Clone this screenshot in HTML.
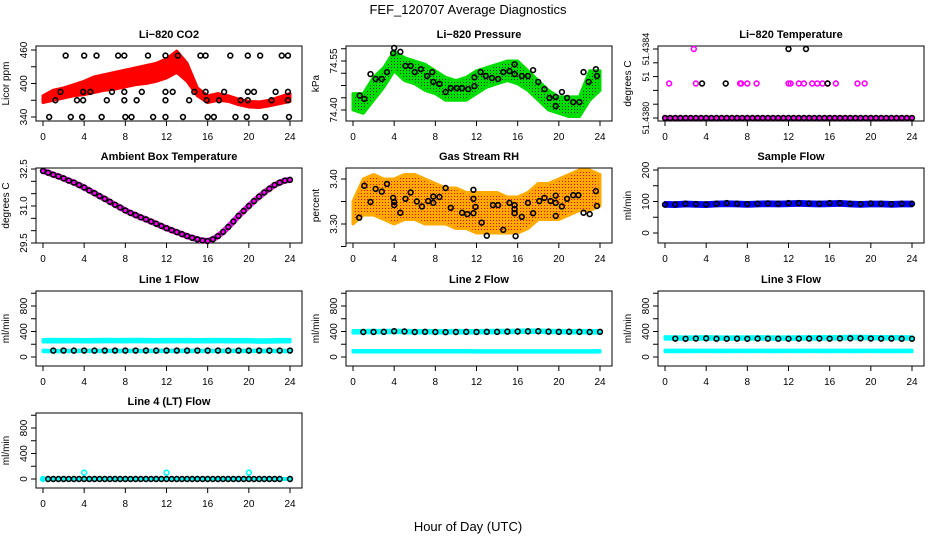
<!DOCTYPE html>
<html><head><meta charset="utf-8"><style>
html,body{margin:0;padding:0;background:#fff;}
svg{display:block;font-family:"Liberation Sans",sans-serif;}
</style></head><body>
<svg id="c" width="936" height="540" viewBox="0 0 936 540" xmlns="http://www.w3.org/2000/svg">
<defs>
<pattern id="pg" width="3" height="3" patternUnits="userSpaceOnUse"><rect width="3" height="3" fill="#00dd00"/><rect x="1" y="1" width="1" height="1" fill="#003300"/></pattern>
<pattern id="po" width="3" height="3" patternUnits="userSpaceOnUse"><rect width="3" height="3" fill="#ffaa00"/><rect x="1" y="1" width="1" height="1" fill="#ff0000"/></pattern>
</defs>
<text x="468" y="14" text-anchor="middle" font-size="13">FEF_120707  Average Diagnostics</text>
<text x="468" y="531" text-anchor="middle" font-size="13">Hour of Day (UTC)</text>
</svg>
<script>
// ---- data ----
const hours = [0,1,2,3,4,5,6,7,8,9,10,11,12,13,14,15,16,17,18,19,20,21,22,23,24];
const xTicks = [0,4,8,12,16,20,24];
// CO2
const co2Lo = [366,370,374,378,380,384,388,390,394,398,400,404,410,420,404,378,366,370,368,362,358,357,360,364,368];
const co2Hi = [378,388,392,398,404,412,416,420,424,428,432,436,444,458,436,392,378,382,378,372,368,367,370,376,382];
const co2BlkT = [2.2,4.0,5.2,7.3,7.9,10.2,11.9,13.1,15.3,15.8,18.2,19.9,21.1,23.2,23.8, 1.7,3.9,4.6,6.7,7.9,9.6,11.9,12.6,14.7,15.8,17.6,19.9,20.5,22.6,23.8, 1.2,3.3,3.9,6.2,7.9,9.1,11.9,14.2,15.9,17.1,19.2,19.9,22.2,23.8, 0.6,2.7,3.8,5.7,8.0,8.6,10.7,11.9,13.6,16.0,16.6,18.7,19.8,21.6,23.9];
const co2BlkV = [450,450,450,450,450,450,450,450,450,450,450,450,450,450,450, 385,385,385,385,385,385,385,385,385,385,385,385,385,385,385, 370,370,370,370,370,370,370,370,370,370,370,370,370,370, 340,340,340,340,340,340,340,340,340,340,340,340,340,340,340];
// Pressure
const prLo = [74.40,74.39,74.43,74.47,74.52,74.49,74.48,74.46,74.45,74.43,74.43,74.43,74.45,74.47,74.48,74.49,74.48,74.46,74.43,74.40,74.39,74.38,74.38,74.43,74.46];
const prHi = [74.45,74.45,74.50,74.53,74.58,74.56,74.55,74.54,74.52,74.50,74.49,74.50,74.52,74.53,74.54,74.55,74.55,74.52,74.49,74.46,74.44,74.44,74.44,74.52,74.52];
const prBlkT = [0.65,1.1,1.7,2.2,2.8,3.3,3.9,4.0,4.6,5.1,5.6,6.0,6.6,7.2,7.7,7.8,8.4,9.0,9.5,10.1,10.6,11.2,11.8,11.8,12.4,12.9,13.5,14.1,14.6,15.2,15.7,15.7,16.4,17.0,17.5,18.0,18.6,19.1,19.7,19.7,20.3,20.8,21.4,22.0,22.4,22.9,23.6,23.7];
const prBlkV = [74.444,74.434,74.51,74.495,74.495,74.516,74.574,74.59,74.578,74.535,74.535,74.516,74.525,74.504,74.516,74.486,74.48,74.455,74.467,74.467,74.467,74.464,74.50,74.473,74.516,74.504,74.498,74.495,74.516,74.519,74.54,74.51,74.504,74.504,74.522,74.486,74.464,74.437,74.412,74.44,74.455,74.437,74.424,74.424,74.516,74.486,74.525,74.504];
// Li-820 temperature
const tmpMidT = [0.4,3.0,7.3,7.4,8.0,8.9,12.0,12.2,13.0,13.5,14.3,14.8,15.3,15.8,16.6,18.7,19.4];
const tmpTopT = [2.8];
const tmpBlkMidT = [3.6,5.9,15.8];
const tmpBlkTopT = [12.0,13.7];
const tmpLow = 51.4380, tmpMid = 51.4382, tmpTop = 51.4384;
// Ambient box temperature (half-hourly)
const ambT = [0,0.5,1,1.5,2,2.5,3,3.5,4,4.5,5,5.5,6,6.5,7,7.5,8,8.5,9,9.5,10,10.5,11,11.5,12,12.5,13,13.5,14,14.5,15,15.5,16,16.5,17,17.5,18,18.5,19,19.5,20,20.5,21,21.5,22,22.5,23,23.5,24];
const ambV = [32.42,32.35,32.27,32.2,32.12,32.03,31.95,31.85,31.75,31.63,31.52,31.4,31.29,31.17,31.05,30.94,30.82,30.72,30.63,30.54,30.46,30.37,30.28,30.19,30.1,30.02,29.94,29.86,29.78,29.71,29.65,29.6,29.58,29.65,29.78,29.95,30.15,30.37,30.6,30.8,31.0,31.2,31.38,31.55,31.7,31.85,31.95,32.03,32.06];
// Gas stream RH
const rhLo = [3.30,3.32,3.32,3.31,3.30,3.31,3.31,3.30,3.30,3.30,3.29,3.29,3.28,3.28,3.28,3.28,3.28,3.29,3.31,3.31,3.31,3.32,3.33,3.33,3.34];
const rhHi = [3.35,3.40,3.41,3.40,3.40,3.41,3.41,3.40,3.39,3.38,3.38,3.37,3.37,3.37,3.37,3.36,3.36,3.37,3.39,3.39,3.40,3.41,3.42,3.42,3.41];
const rhBlkT = [0.6,1.1,1.7,2.2,2.8,3.3,3.9,4.0,4.0,4.6,5.1,5.6,6.2,6.7,7.3,7.8,7.8,8.4,9.0,9.5,10.6,11.1,11.7,11.7,11.7,11.9,12.5,13.0,13.6,14.1,14.6,15.2,15.7,15.7,15.7,15.8,16.4,17.0,17.5,18.1,18.6,19.2,19.7,19.7,19.7,20.3,20.8,21.4,21.9,22.4,23.0,23.6,23.7];
const rhBlkV = [3.314,3.385,3.349,3.378,3.372,3.389,3.358,3.349,3.342,3.325,3.356,3.37,3.35,3.339,3.351,3.361,3.347,3.36,3.38,3.336,3.325,3.322,3.376,3.356,3.324,3.338,3.303,3.274,3.342,3.342,3.287,3.347,3.342,3.333,3.324,3.273,3.316,3.347,3.324,3.351,3.358,3.351,3.363,3.347,3.318,3.339,3.356,3.364,3.364,3.325,3.322,3.373,3.340];
// Sample flow
const sfBlue = [91,90,92,91,90,92,93,92,91,92,93,92,93,94,93,92,93,94,92,91,92,92,91,92,92];
const sfBlk = [90,91,93,92,91,93,95,93,92,93,94,93,95,95,94,93,95,95,93,92,94,93,92,93,93];
// Flows
const l1CyanHi = [255,258,256,257,255,256,258,257,256,258,256,255,256,257,256,255,256,257,256,255,256,250,252,256,255];
const l1CyanLo = [95,92,94,95,96,95,94,95,96,95,96,95,96,95,96,95,96,95,96,95,96,95,96,94,95];
const l1Blk = [100,100,101,100,101,100,101,101,100,101,101,100,101,101,100,101,100,101,100,101,100,101,100,100,101];
const l2Cyan = [395,398,400,398,402,400,395,398,396,394,398,396,396,398,399,400,402,405,404,400,398,396,398,395,395];
const l2CyanLo = [90,90,90,90,90,90,90,90,90,90,90,90,88,88,88,88,88,88,88,88,88,88,88,88,90];
const l2Blk = [390,392,393,395,405,400,392,395,392,390,392,394,393,395,394,398,400,402,404,398,395,396,394,392,395];
const l3Cyan = [300,298,296,298,300,297,296,298,298,300,298,296,297,298,300,301,300,302,305,306,304,300,302,300,298];
const l3CyanLo = [95,95,95,96,96,95,95,96,95,96,95,95,96,95,96,95,95,96,95,95,96,95,95,95,95];
const l3Blk = [285,288,286,290,292,287,286,288,286,289,288,287,286,288,289,290,288,291,292,293,290,288,289,287,286];
const l4Cyan = [0,0,0,0,100,0,0,0,0,0,0,0,100,0,0,0,0,0,0,0,100,0,0,0,0];
const l4Blk = [0,0,0,0,0,0,0,0,0,0,0,0,0,0,0,0,0,0,0,0,0,0,0,0,0];

// ---- drawing ----
const svg = document.getElementById('c');
const NS = 'http://www.w3.org/2000/svg';
function mk(tag, attrs, parent) {
  const e = document.createElementNS(NS, tag);
  for (const k in attrs) e.setAttribute(k, attrs[k]);
  (parent || svg).appendChild(e);
  return e;
}
const colL = [36, 346, 658];
const rowT = [46, 168, 291, 413];
const PW = 266, PH = 75;

function panel(col, row, name, title, ylab, vA, offA, vB, offB, yTicks, yLabels, lfs) {
  const L = colL[col], T = rowT[row];
  const g = mk('g', {});
  
  
  const x = t => L + 7 + t * (247 / 24);
  const y = v => T + offA + (v - vA) * (offB - offA) / (vB - vA);
  const tt = mk('text', {x: L + PW / 2, y: T - 8, 'text-anchor': 'middle', 'font-size': 11, 'font-weight': 'bold'}, g);
  tt.textContent = title;
  
  
  const yl = mk('text', {x: 0, y: 0, 'text-anchor': 'middle', 'font-size': 10, transform: `translate(${L - 27},${T + PH / 2}) rotate(-90)`}, g);
  yl.textContent = ylab;
  
  
  const box = mk('rect', {x: L, y: T, width: PW, height: PH, fill: 'none', stroke: '#000', 'stroke-width': 1}, g);
  
  
  const xa = mk('g', {}, g);
  
  
  mk('line', {x1: x(0), x2: x(24), y1: T + PH, y2: T + PH, stroke: '#000'}, xa);
  xTicks.forEach(t => {
    mk('line', {x1: x(t), x2: x(t), y1: T + PH, y2: T + PH + 5, stroke: '#000'}, xa);
    const lb = mk('text', {x: x(t), y: T + PH + 19, 'text-anchor': 'middle', 'font-size': 10}, xa);
    lb.textContent = t;
  });
  const ya = mk('g', {}, g);
  
  
  mk('line', {x1: L, x2: L, y1: y(yTicks[0]), y2: y(yTicks[yTicks.length - 1]), stroke: '#000'}, ya);
  yTicks.forEach(v => mk('line', {x1: L - 5, x2: L, y1: y(v), y2: y(v), stroke: '#000'}, ya));
  yLabels.forEach(p => {
    const lb = mk('text', {x: 0, y: 0, 'text-anchor': 'middle', 'font-size': lfs || 10, transform: `translate(${L - 9},${y(p[0])}) rotate(-90)`}, ya);
    lb.textContent = p[1];
  });
  const data = mk('g', {}, g);
  
  
  return {x, y, g: data};
}
function band(P, ts, lo, hi, fill, name) {
  const pts = ts.map((t, i) => P.x(t) + ',' + P.y(lo[i])).concat(ts.map((t, i) => P.x(t) + ',' + P.y(hi[i])).reverse());
  const e = mk('polygon', {points: pts.join(' '), fill: fill, stroke: fill === 'url(#pg)' ? '#00dd00' : (fill === 'url(#po)' ? '#ffaa00' : fill), 'stroke-width': 3, 'stroke-linejoin': 'round'}, P.g);
  
  
}
function line(P, ts, vs, color, w, name) {
  const e = mk('polyline', {points: ts.map((t, i) => P.x(t) + ',' + P.y(vs[i])).join(' '), fill: 'none', stroke: color, 'stroke-width': w, 'stroke-linejoin': 'round', 'stroke-linecap': 'round'}, P.g);
  
  
}
function pts(P, ts, vs, color, name, r) {
  const gg = mk('g', {}, P.g);
  
  
  ts.forEach((t, i) => mk('circle', {cx: P.x(t), cy: P.y(vs[i]), r: r || 2.4, fill: 'none', stroke: color, 'stroke-width': 1.6}, gg));
}

// CO2
let P = panel(0, 0, 'co2', 'Li\u2212820 CO2', 'Licor ppm', 340, 71, 460, 4, [340, 370, 400, 430, 460], [[340, '340'], [400, '400'], [460, '460']]);
band(P, hours, co2Lo, co2Hi, '#ff0000', 'co2-red-series');
pts(P, co2BlkT, co2BlkV, '#000', 'co2-black-points');

// Pressure
P = panel(1, 0, 'pressure', 'Li\u2212820 Pressure', 'kPa', 74.40, 64, 74.55, 15, [74.40, 74.4375, 74.475, 74.5125, 74.55, 74.5875], [[74.40, '74.40'], [74.55, '74.55']]);
band(P, hours, prLo, prHi, 'url(#pg)', 'pressure-green-series');
pts(P, prBlkT, prBlkV, '#000', 'pressure-black-points');

// Li-820 temperature
P = panel(2, 0, 'licor-temp', 'Li\u2212820 Temperature', 'degrees C', 51.4380, 72, 51.4384, 3, [51.4380, 51.43808, 51.43816, 51.43824, 51.43832, 51.4384], [[51.4380, '51.4380'], [51.43824, '51'], [51.4384, '51.4384']], 9);
line(P, [0, 24], [tmpLow, tmpLow], '#ff00ff', 5, 'licor-temp-magenta-baseline');
pts(P, hours.concat(hours.slice(0, 24).map(h => h + 0.5)), hours.concat(hours.slice(0, 24)).map(() => tmpLow), '#000', 'licor-temp-black-baseline');
pts(P, tmpMidT, tmpMidT.map(() => tmpMid), '#ff00ff', 'licor-temp-magenta-mid');
pts(P, tmpTopT, tmpTopT.map(() => tmpTop), '#ff00ff', 'licor-temp-magenta-top');
pts(P, tmpBlkMidT, tmpBlkMidT.map(() => tmpMid), '#000', 'licor-temp-black-mid');
pts(P, tmpBlkTopT, tmpBlkTopT.map(() => tmpTop), '#000', 'licor-temp-black-top');

// Ambient
P = panel(0, 1, 'ambient-temp', 'Ambient Box Temperature', 'degrees C', 29.5, 75, 32.5, 1, [29.5, 30.0, 30.5, 31.0, 31.5, 32.0, 32.5], [[29.5, '29.5'], [31.0, '31.0'], [32.5, '32.5']]);
line(P, ambT, ambV, '#ff00ff', 6, 'ambient-temp-magenta-series');
pts(P, ambT, ambV, '#000', 'ambient-temp-black-points');

// Gas RH
P = panel(1, 1, 'gas-rh', 'Gas Stream RH', 'percent', 3.30, 56, 3.40, 11, [3.25, 3.30, 3.35, 3.40], [[3.30, '3.30'], [3.40, '3.40']]);
band(P, hours, rhLo, rhHi, 'url(#po)', 'gas-rh-orange-series');
pts(P, rhBlkT, rhBlkV, '#000', 'gas-rh-black-points');

// Sample flow
P = panel(2, 1, 'sample-flow', 'Sample Flow', 'ml/min', 0, 65, 200, 2, [0, 50, 100, 150, 200], [[0, '0'], [100, '100'], [200, '200']]);
band(P, hours, sfBlue.map(v => v - 6), sfBlue.map(v => v + 6), '#0000ff', 'sample-flow-blue-series');
pts(P, hours, sfBlk, '#000', 'sample-flow-black-points');

// Flow panels
const fT = [0, 200, 400, 600, 800, 1000], fL = [[0, '0'], [400, '400'], [800, '800']];
P = panel(0, 2, 'line1-flow', 'Line 1 Flow', 'ml/min', 0, 66, 800, 15, fT, fL);
band(P, hours, l1CyanHi.map(v => v - 20), l1CyanHi.map(v => v + 20), '#00ffff', 'line1-cyan-upper');
band(P, hours, l1CyanLo.map(v => v - 12), l1CyanLo.map(v => v + 12), '#00ffff', 'line1-cyan-lower');
pts(P, hours.slice(1), l1Blk.slice(1), '#000', 'line1-black-points');

P = panel(1, 2, 'line2-flow', 'Line 2 Flow', 'ml/min', 0, 66, 800, 15, fT, fL);
band(P, hours, l2Cyan.map(v => v - 20), l2Cyan.map(v => v + 20), '#00ffff', 'line2-cyan-upper');
band(P, hours, l2CyanLo.map(v => v - 12), l2CyanLo.map(v => v + 12), '#00ffff', 'line2-cyan-lower');
pts(P, hours.slice(1), l2Blk.slice(1), '#000', 'line2-black-points');

P = panel(2, 2, 'line3-flow', 'Line 3 Flow', 'ml/min', 0, 66, 800, 15, fT, fL);
band(P, hours, l3Cyan.map(v => v - 20), l3Cyan.map(v => v + 20), '#00ffff', 'line3-cyan-upper');
band(P, hours, l3CyanLo.map(v => v - 12), l3CyanLo.map(v => v + 12), '#00ffff', 'line3-cyan-lower');
pts(P, hours.slice(1), l3Blk.slice(1), '#000', 'line3-black-points');

P = panel(0, 3, 'line4-flow', 'Line 4 (LT) Flow', 'ml/min', 0, 66, 800, 15, fT, fL);
line(P, hours, hours.map(() => 0), '#00ffff', 4, 'line4-cyan-baseline');
pts(P, hours, l4Cyan, '#00ffff', 'line4-cyan-points');
pts(P, hours.slice(1), l4Blk.slice(1), '#000', 'line4-black-points');
pts(P, hours.slice(1, 24).map(h => h - 0.5), l4Blk.slice(1, 24), '#000', 'line4-black-points-half');
</script>
</body></html>
